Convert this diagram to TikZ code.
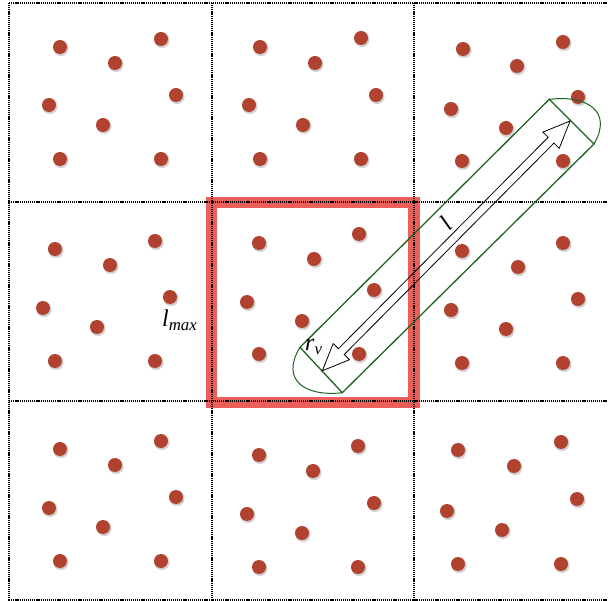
\documentclass[tikz,border=0pt]{standalone}
\usepackage{fontspec}
\setmainfont{Liberation Serif}
\definecolor{dotred}{RGB}{178,66,48}
\definecolor{boxred}{RGB}{236,94,90}
\definecolor{cylgreen}{RGB}{30,100,30}
\tikzset{
  gridline/.style={black, line width=1.1pt, dash pattern=on 1.2pt off 0.9pt},
  pdot/.style={fill=dotred},
  pshadow/.style={fill=black, opacity=0.18},
  cyl/.style={cylgreen, line width=1.3pt},
  dblarrow/.style={black, line width=0.8pt, line join=miter},
  lab/.style={inner sep=0pt, font=\fontsize{24}{28}\selectfont\itshape}
}
\newcommand{\mydot}[2]{%
  \fill[pshadow] (#1+1,#2+1.5) circle (7.6);
  \fill[pdot] (#1,#2) circle (7);}
\begin{document}
\begin{tikzpicture}[x=1pt,y=-1pt]
\useasboundingbox (0,0) rectangle (608,601);
\fill[white] (0,0) rectangle (608,601);
% dots
\foreach \p/\q in {60/47,161/39,115/63,176/95,49/105,103/125,60/159,161/159,
                   260/47,361/38,315/63,376/95,249/105,303/125,260/159,361/159,
                   463/49,563/42,517/66,578/97,451/109,506/128,462/161,563/161,
                   55/249,155/241,110/265,170/297,43/308,97/327,55/361,155/361,
                   259/243,359/234,314/259,374/290,247/302,302/321,259/354,359/354,
                   462/251,563/243,518/267,578/299,451/310,506/329,462/363,563/363,
                   60/449,161/441,115/465,176/497,49/508,103/527,60/561,161/561,
                   259/455,358/446,313/471,374/503,247/514,302/533,259/567,358/567,
                   458/450,561/442,514/466,577/499,447/511,502/530,458/564,561/564}
  {\mydot{\p}{\q}}
% highlighted cell
\draw[boxred, line width=11.5pt] (211.5,202.5) rectangle (414.2,402.5);
% grid
\foreach \x in {9,212,414} \draw[gridline] (\x,3) -- (\x,601);
\foreach \y in {3,202,401,600} \draw[gridline] (9,\y) -- (608,\y);
% cylinder
\coordinate (A) at (549.3,99.3);
\coordinate (B) at (594,144);
\coordinate (C) at (342.3,392.7);
\coordinate (D) at (300,347.3);
\draw[cyl] (A) -- (B) -- (C) -- (D) -- cycle;
\draw[cyl, line width=1pt] (B) .. controls (612.8,111.8) and (587.8,94.8) .. (A);
\draw[cyl, line width=1pt] (D) .. controls (280,380) and (305,397) .. (C);
% double arrow
\begin{scope}[shift={(446.2,245.9)}, rotate=45.23]
\draw[dblarrow] (175.9,0) -- (148.9,11.5) -- (148.9,4.1) -- (-148.9,4.1)
  -- (-148.9,11.5) -- (-175.9,0) -- (-148.9,-11.5) -- (-148.9,-4.1)
  -- (148.9,-4.1) -- (148.9,-11.5) -- cycle;
\end{scope}
% labels
\node[lab, anchor=base west] (lmax) at (162,326.7) {l\textsubscript{max}};
\node[lab, anchor=base west] (rv) at (305,350.5) {r\textsubscript{v}};
\node[lab, rotate=45.23] (llab) at (446,223) {l};
\end{tikzpicture}
\end{document}
